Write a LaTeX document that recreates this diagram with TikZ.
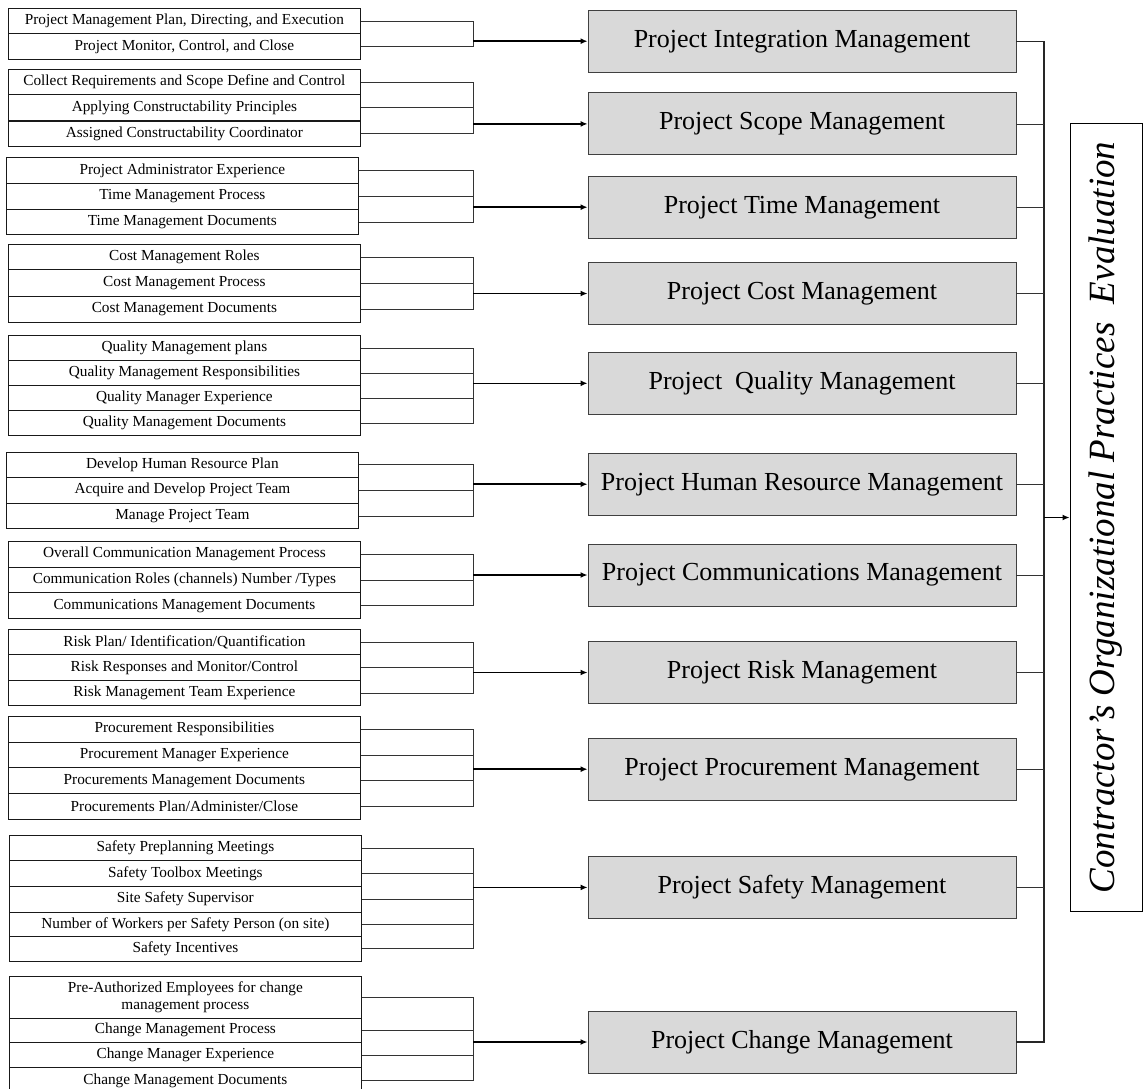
\documentclass[tikz,border=0pt]{standalone}
\usepackage{fontspec}
\setmainfont{Liberation Serif}
\usetikzlibrary{arrows.meta}
\begin{document}
\begin{tikzpicture}[x=1pt,y=-1pt,
  item/.style={draw=black!90, line width=0.8pt, minimum width=352pt, inner sep=0pt,
    anchor=north west, align=center, font=\fontsize{15.3}{17.5}\selectfont},
  area/.style={draw=black!75, fill=black!15, line width=0.9pt, minimum width=428pt,
    minimum height=62pt, inner sep=0pt, font=\fontsize{26}{30}\selectfont},
  link/.style={draw=black!80, line width=0.7pt},
  bus/.style={draw=black!85, line width=1.2pt},
  feed/.style={draw=black, line width=1.5pt, -{Latex[length=7pt,width=6pt]}},
]
\useasboundingbox (0,0) rectangle (1143,1088);
\newcommand\leaf[5][8]{\node[item, minimum height=#4pt] (#2) at (#1,#3) {#5};}

% column positions of the joints
\coordinate (jx) at (473,0);
\coordinate (bx) at (1044,0);

% ---- practice items (left column) ----
\leaf{a1}{8.3}{25}{Project Management Plan, Directing, and Execution}
\leaf{a2}{33.3}{26}{Project Monitor, Control, and Close}

\leaf{b1}{69.3}{25}{Collect Requirements and Scope Define and Control}
\leaf{b2}{94.3}{26}{Applying Constructability Principles}
\leaf{b3}{120.5}{25.5}{Assigned Constructability Coordinator}

\leaf[6]{c1}{157.3}{25.4}{Project Administrator Experience}
\leaf[6]{c2}{182.7}{26.6}{Time Management Process}
\leaf[6]{c3}{209.3}{24.5}{Time Management Documents}

\leaf{d1}{244}{25.3}{Cost Management Roles}
\leaf{d2}{269.3}{26.4}{Cost Management Process}
\leaf{d3}{295.7}{26.6}{Cost Management Documents}

\leaf{e1}{335}{25}{Quality Management plans}
\leaf{e2}{360}{25.3}{Quality Management Responsibilities}
\leaf{e3}{385.3}{24.7}{Quality Manager Experience}
\leaf{e4}{410}{25}{Quality Management Documents}

\leaf[6]{f1}{451.7}{25}{Develop Human Resource Plan}
\leaf[6]{f2}{476.7}{26}{Acquire and Develop Project Team}
\leaf[6]{f3}{502.7}{25.6}{Manage Project Team}

\leaf{g1}{541}{25.7}{Overall Communication Management Process}
\leaf{g2}{566.7}{25.6}{Communication Roles (channels) Number /Types}
\leaf{g3}{592.3}{26}{Communications Management Documents}

\leaf{h1}{629}{25.3}{Risk Plan/ Identification/Quantification}
\leaf{h2}{654.3}{25.7}{Risk Responses and Monitor/Control}
\leaf{h3}{680}{25}{Risk Management Team Experience}

\leaf{p1}{716}{25.7}{Procurement Responsibilities}
\leaf{p2}{741.7}{25.6}{Procurement Manager Experience}
\leaf{p3}{767.3}{26}{Procurements Management Documents}
\leaf{p4}{793.3}{26}{Procurements Plan/Administer/Close}

\leaf[9]{s1}{835}{25}{Safety Preplanning Meetings}
\leaf[9]{s2}{860}{25.7}{Safety Toolbox Meetings}
\leaf[9]{s3}{885.7}{26}{Site Safety Supervisor}
\leaf[9]{s4}{911.7}{24.3}{Number of Workers per Safety Person (on site)}
\leaf[9]{s5}{936}{24.7}{Safety Incentives}

\leaf[9]{k1}{975.7}{42}{Pre-Authorized Employees for change\\management process}
\leaf[9]{k2}{1017.7}{24}{Change Management Process}
\leaf[9]{k3}{1041.7}{25.6}{Change Manager Experience}
\leaf[9]{k4}{1067.3}{25.6}{Change Management Documents}

% ---- knowledge areas (middle column) ----
\node[area] (rI) at (802,41.2)  {Project Integration Management};
\node[area] (rS) at (802,123.9) {Project Scope Management};
\node[area] (rT) at (802,207.2) {Project Time Management};
\node[area] (rC) at (802,293.5) {Project Cost Management};
\node[area] (rQ) at (802,383.3) {Project~ Quality Management};
\node[area] (rH) at (802,484.2) {Project Human Resource Management};
\node[area] (rM) at (802,575)   {Project Communications Management};
\node[area] (rR) at (802,672.5) {Project Risk Management};
\node[area] (rP) at (802,769.2) {Project Procurement Management};
\node[area] (rY) at (802,887.4) {Project Safety Management};
\node[area] (rK) at (802,1042)  {Project Change Management};

% ---- overall evaluation ----
\node[draw=black, line width=0.9pt, minimum width=72pt, minimum height=788.4pt, inner sep=0pt]
  (ev) at (1106,517.5)
  {\rotatebox{90}{\fontsize{37}{42}\selectfont\itshape Contractor's Organizational Practices~ Evaluation}};

% ---- brackets from items to areas ----
\foreach \top/\bot/\mids/\dst in {a1/a2//rI, b1/b3/b2/rS, c1/c3/c2/rT, d1/d3/d2/rC,
    e1/e4/{e2,e3}/rQ, f1/f3/f2/rH, g1/g3/g2/rM, h1/h3/h2/rR, p1/p4/{p2,p3}/rP,
    s1/s5/{s2,s3,s4}/rY, k1/k4/{k2,k3}/rK}{
  \draw[link] (\top.east) -- (\top.east -| jx) -- (\bot.east -| jx) -- (\bot.east);
  \foreach \m in \mids {\draw[link] (\m.east) -- (\m.east -| jx);}
  \draw[feed] (\dst.west -| jx) -- (\dst.west);
}

% ---- bus from areas to the evaluation ----
\draw[bus] (rI.east) -- (rI.east -| bx) -- (rK.east -| bx) -- (rK.east);
\foreach \r in {rS,rT,rC,rQ,rH,rM,rR,rP,rY}{\draw[link] (\r.east) -- (\r.east -| bx);}
\draw[feed] (ev.west -| bx) -- (ev.west);
\end{tikzpicture}
\end{document}
